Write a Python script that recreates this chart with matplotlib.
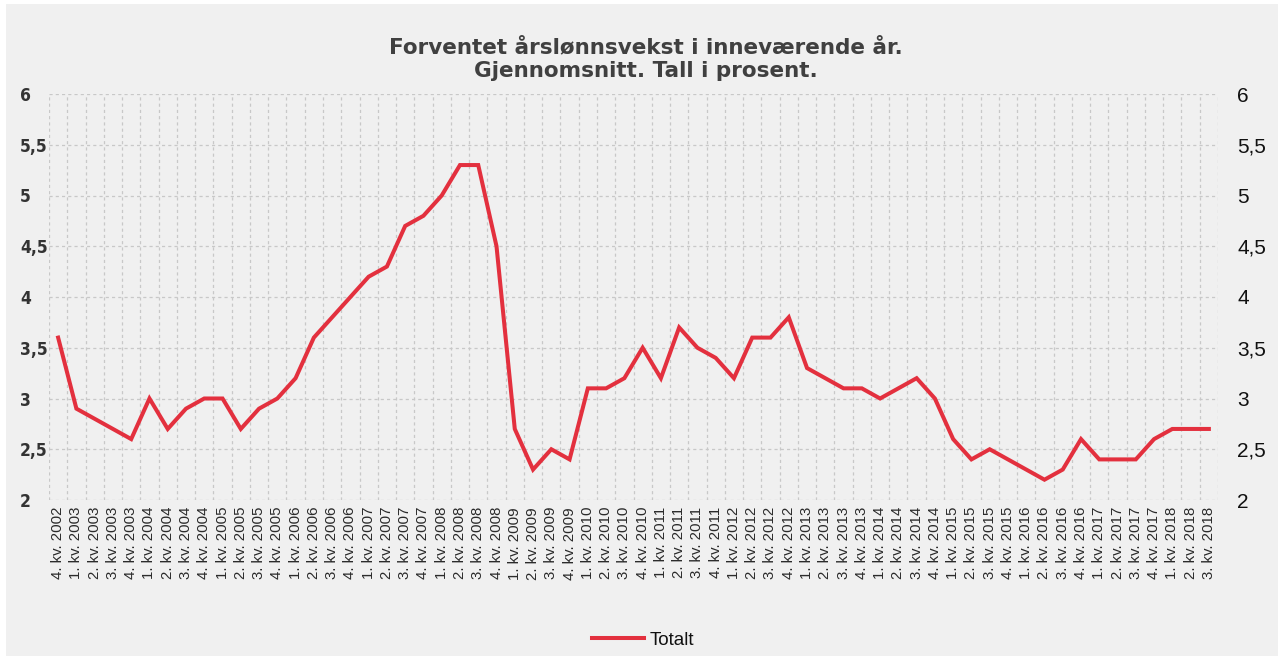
import matplotlib
matplotlib.use("Agg")
import matplotlib.pyplot as plt
from matplotlib.patches import Rectangle
from matplotlib.ticker import FixedLocator, FuncFormatter
import numpy as np

# ---- data ----
quarters = ["4. kv. 2002"] + [f"{q}. kv. {y}" for y in range(2003, 2019) for q in (1, 2, 3, 4)]
quarters = quarters[:64]
totalt = [3.6,
          2.9, 2.8, 2.7, 2.6,
          3.0, 2.7, 2.9, 3.0,
          3.0, 2.7, 2.9, 3.0,
          3.2, 3.6, 3.8, 4.0,
          4.2, 4.3, 4.7, 4.8,
          5.0, 5.3, 5.3, 4.5,
          2.7, 2.3, 2.5, 2.4,
          3.1, 3.1, 3.2, 3.5,
          3.2, 3.7, 3.5, 3.4,
          3.2, 3.6, 3.6, 3.8,
          3.3, 3.2, 3.1, 3.1,
          3.0, 3.1, 3.2, 3.0,
          2.6, 2.4, 2.5, 2.4,
          2.3, 2.2, 2.3, 2.6,
          2.4, 2.4, 2.4, 2.6,
          2.7, 2.7, 2.7]
y_ticks = [2, 2.5, 3, 3.5, 4, 4.5, 5, 5.5, 6]
title = "Forventet årslønnsvekst i inneværende år.\nGjennomsnitt. Tall i prosent."
series_name = "Totalt"

# ---- figure ----
W, H = 1284, 660
fig = plt.figure(figsize=(W / 100, H / 100), dpi=100, facecolor="white")
fig.patches.append(Rectangle((6 / W, 4 / H), 1 - 12 / W, 1 - 8 / H, transform=fig.transFigure,
                             facecolor="#f0f0f0", edgecolor="none", zorder=-10))

ax = fig.add_axes([49 / W, 1 - 500 / H, (1218 - 49) / W, (500 - 94) / H])
ax.set_facecolor("none")
for s in ax.spines.values():
    s.set_visible(False)

x = np.arange(len(quarters))
line, = ax.plot(x, totalt, color="#e3303e", lw=2.9, solid_joinstyle="miter", zorder=3)

ax.set_xlim(-0.5, len(quarters) - 0.5)
ax.set_ylim(2, 6)

ax.set_xticks(x)
ax.set_xticklabels(quarters, rotation=90, fontsize=10.8, family="Liberation Sans", color="#2a2a2a")
ax.xaxis.set_minor_locator(FixedLocator(np.arange(-0.5, len(quarters), 1.0)))
ax.tick_params(axis="x", which="major", length=0, pad=5)
ax.tick_params(axis="x", which="minor", length=0)

fmt = FuncFormatter(lambda v, p: (f"{v:g}").replace(".", ","))
ax.set_yticks(y_ticks)
ax.yaxis.set_major_formatter(fmt)
ax.tick_params(axis="y", length=0, pad=21)
for lab in ax.get_yticklabels():
    lab.set_fontsize(12.5)
    lab.set_fontweight("bold")
    lab.set_fontstretch("condensed")
    lab.set_color("#333333")
    lab.set_horizontalalignment("left")

ax.grid(which="minor", axis="x", color="#c8c8c8", lw=0.9, ls=(0, (2.5, 2.5)))
ax.grid(which="major", axis="y", color="#c8c8c8", lw=0.9, ls=(0, (2.5, 2.5)))
ax.grid(which="major", axis="x", visible=False)

ax2 = ax.twinx()
for s in ax2.spines.values():
    s.set_visible(False)
ax2.set_ylim(2, 6)
ax2.set_yticks(y_ticks)
ax2.yaxis.set_major_formatter(fmt)
ax2.tick_params(axis="y", length=0, pad=14, labelsize=15, labelcolor="#111111")
for lab in ax2.get_yticklabels():
    lab.set_family("Liberation Sans")

fig.text(646 / W, 1 - 59 / H, title, ha="center", va="center", fontsize=15.5, fontweight="bold",
         color="#404040", linespacing=1.25)

fig.legend([line], [series_name], loc="center", bbox_to_anchor=(643 / W, 1 - 640 / H),
           frameon=False, prop={"family": "Liberation Sans", "size": 13.5}, handlelength=2.8,
           handletextpad=0.3, labelcolor="#111111")

fig.savefig("out.png", dpi=100, facecolor="white")
